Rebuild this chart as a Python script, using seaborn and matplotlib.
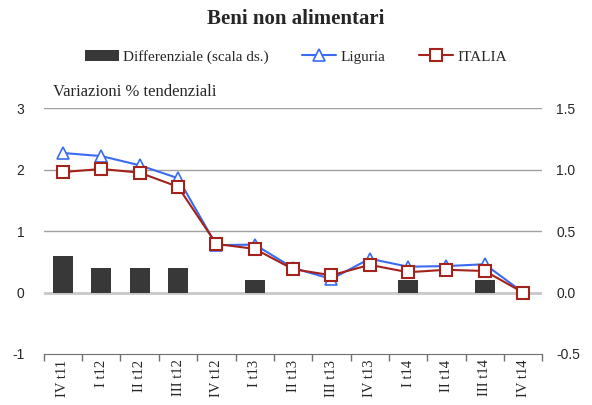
import numpy as np
import pandas as pd
import matplotlib.pyplot as plt
import seaborn as sns

# data
periodi = ['IV t11', 'I t12', 'II t12', 'III t12', 'IV t12', 'I t13', 'II t13',
           'III t13', 'IV t13', 'I t14', 'II t14', 'III t14', 'IV t14']
liguria = [2.27, 2.22, 2.07, 1.86, 0.77, 0.78, 0.40, 0.22, 0.55, 0.42, 0.43, 0.46, 0.0]
italia = [1.96, 2.01, 1.95, 1.72, 0.79, 0.71, 0.38, 0.28, 0.45, 0.33, 0.37, 0.35, 0.0]
differenziale = [0.3, 0.2, 0.2, 0.2, 0.0, 0.1, 0.0, 0.0, 0.0, 0.1, 0.0, 0.1, 0.0]

df = pd.DataFrame({'periodo': periodi, 'Liguria': liguria, 'ITALIA': italia,
                   'diff': differenziale})
df['x'] = np.arange(len(df))

sns.set_style('white')
plt.rcParams['font.family'] = ['Liberation Serif', 'DejaVu Serif']

fig = plt.figure(figsize=(5.92, 4.05), dpi=100)
ax = fig.add_axes([0.074, 0.126, 0.842, 0.607])
ax2 = ax.twinx()

# bars on the right scale, drawn underneath the lines
sns.barplot(data=df, x='periodo', y='diff', color='#383838', width=0.52,
            saturation=1, linewidth=0, ax=ax2, label='Differenziale (scala ds.)')
ax.set_zorder(ax2.get_zorder() + 1)
ax.patch.set_visible(False)

sns.lineplot(data=df, x='x', y='Liguria', color='#3A6BF0', lw=1.5, marker='^',
             markersize=8, markerfacecolor='white', markeredgecolor='#3A6BF0',
             markeredgewidth=1.2, ax=ax, label='Liguria')
sns.lineplot(data=df, x='x', y='ITALIA', color='#A3221C', lw=1.5, marker='s',
             markersize=9, markerfacecolor='white', markeredgecolor='#A3221C',
             markeredgewidth=1.5, ax=ax, label='ITALIA')

ax.set_xlim(-0.5, len(df) - 0.5)
ax.set_ylim(-1, 3)
ax2.set_ylim(-0.5, 1.5)
ax.set_yticks([-1, 0, 1, 2, 3])
ax2.set_yticks([-0.5, 0, 0.5, 1.0, 1.5])
ax.set_yticklabels(['-1', '0', '1', '2', '3'], family='Liberation Sans', fontsize=10)
ax2.set_yticklabels(['-0.5', '0.0', '0.5', '1.0', '1.5'], family='Liberation Sans',
                    fontsize=10)

# gridlines
for v in [1, 2, 3]:
    ax2.axhline((v + 1) / 2 - 0.5, color='#A0A0A0', lw=1, zorder=0)
ax2.axhline(0, color='#C8C8C8', lw=2, zorder=0)

ax.set_xticks(df['x'])
ax.set_xticklabels(periodi, rotation=90, fontsize=10.5)
ax.set_xticks(np.arange(-0.5, len(df)), minor=True)
ax.tick_params(axis='x', which='major', length=0, pad=4)
ax.tick_params(axis='x', which='minor', bottom=True, length=5, color='#707070',
               width=1, direction='out')
ax.tick_params(axis='y', length=0, pad=14)
ax2.tick_params(axis='y', length=0, pad=10)

for a in (ax, ax2):
    for s in ['left', 'right', 'top']:
        a.spines[s].set_visible(False)
ax.spines['bottom'].set_color('#707070')
ax2.spines['bottom'].set_visible(False)
ax.set_xlabel('')
ax.set_ylabel('')
ax2.set_ylabel('')

fig.text(0.5, 0.952, 'Beni non alimentari', ha='center', va='center',
         fontsize=15, fontweight='bold')
fig.text(0.09, 0.773, 'Variazioni % tendenziali', ha='left', va='center', fontsize=12)

h1, l1 = ax2.get_legend_handles_labels()
h2, l2 = ax.get_legend_handles_labels()
if ax2.get_legend():
    ax2.get_legend().remove()
ax.legend(h1 + h2, l1 + l2, ncol=3, loc='center', bbox_to_anchor=(0.5, 0.86),
          bbox_transform=fig.transFigure, frameon=False, fontsize=11,
          handlelength=2.2, columnspacing=2.2, handletextpad=0.3)

fig.savefig('out.png', dpi=100)
